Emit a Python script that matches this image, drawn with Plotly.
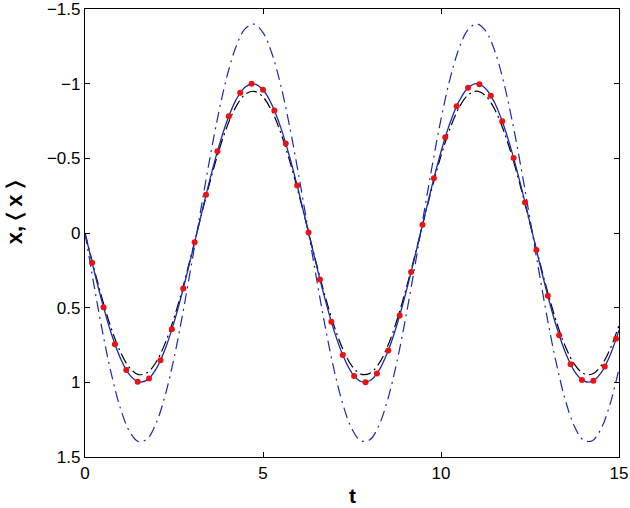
import plotly.graph_objects as go

# time grid for the curves
t_grid = [i * 0.25 for i in range(61)]

# solid blue curve <x>
x_mean = [0, 0.2474, 0.4794, 0.6816, 0.8415, 0.9490, 0.9975, 0.9840, 0.9093, 0.7781,
          0.5985, 0.3817, 0.1411, -0.1082, -0.3508, -0.5716, -0.7568, -0.8950, -0.9775, -0.9993,
          -0.9589, -0.8589, -0.7055, -0.5083, -0.2794, -0.0332, 0.2151, 0.4500, 0.6570, 0.8231,
          0.9380, 0.9946, 0.9894, 0.9229, 0.7985, 0.6247, 0.4121, 0.1743, -0.0752, -0.3195,
          -0.5440, -0.7347, -0.8797, -0.9700, -1.0000, -0.9678, -0.8755, -0.7287, -0.5366, -0.3111,
          -0.0663, 0.1826, 0.4202, 0.6316, 0.8038, 0.9260, 0.9906, 0.9936, 0.9349, 0.8180, 0.6503]

# blue dash-dot curve (larger amplitude)
x_wide = [0, 0.346, 0.671, 0.954, 1.178, 1.329, 1.397, 1.378, 1.273, 1.089,
          0.838, 0.534, 0.198, -0.151, -0.491, -0.800, -1.060, -1.253, -1.369, -1.399,
          -1.342, -1.202, -0.988, -0.712, -0.391, -0.046, 0.301, 0.630, 0.920, 1.152,
          1.313, 1.392, 1.385, 1.292, 1.118, 0.875, 0.577, 0.244, -0.105, -0.447,
          -0.762, -1.029, -1.232, -1.358, -1.400, -1.355, -1.226, -1.020, -0.751, -0.436,
          -0.093, 0.256, 0.588, 0.884, 1.125, 1.296, 1.387, 1.391, 1.309, 1.145, 0.910]

# black dash-dot curve (slightly smaller amplitude)
x_narrow = [0, 0.235, 0.455, 0.648, 0.799, 0.902, 0.948, 0.935, 0.864, 0.739,
            0.569, 0.363, 0.134, -0.103, -0.333, -0.543, -0.719, -0.850, -0.929, -0.949,
            -0.911, -0.816, -0.670, -0.483, -0.265, -0.032, 0.204, 0.428, 0.624, 0.782,
            0.891, 0.945, 0.940, 0.877, 0.759, 0.593, 0.391, 0.166, -0.071, -0.304,
            -0.517, -0.698, -0.836, -0.922, -0.950, -0.919, -0.832, -0.692, -0.510, -0.296,
            -0.063, 0.173, 0.399, 0.600, 0.764, 0.880, 0.941, 0.944, 0.888, 0.777, 0.618]

# red sample points
t_dots = [0.2, 0.52, 0.84, 1.16, 1.48, 1.80, 2.12, 2.44, 2.76, 3.08, 3.40, 3.72, 4.04, 4.36,
          4.68, 5.00, 5.32, 5.64, 5.96, 6.28, 6.60, 6.92, 7.24, 7.56, 7.88, 8.20, 8.52, 8.84,
          9.16, 9.48, 9.80, 10.12, 10.44, 10.76, 11.08, 11.40, 11.72, 12.04, 12.36, 12.68,
          13.00, 13.32, 13.64, 13.96, 14.28, 14.60, 14.92]
x_dots = [0.1987, 0.4969, 0.7446, 0.9168, 0.9959, 0.9738, 0.8529, 0.6454, 0.3724, 0.0616,
          -0.2555, -0.5467, -0.7823, -0.9386, -0.9995, -0.9589, -0.8210, -0.5998, -0.3176, -0.0032,
          0.3115, 0.5946, 0.8174, 0.9571, 0.9997, 0.9407, 0.7863, 0.5520, 0.2617, -0.0552,
          -0.3665, -0.6406, -0.8496, -0.9724, -0.9964, -0.9193, -0.7489, -0.5024, -0.2049, 0.1134,
          0.4202, 0.6843, 0.8789, 0.9843, 0.9898, 0.8948, 0.7089]

y_ticks = [-1.5, -1, -0.5, 0, 0.5, 1, 1.5]
y_tick_labels = ["\u22121.5", "\u22121", "\u22120.5", "0", "0.5", "1", "1.5"]
x_ticks = [0, 5, 10, 15]
x_tick_labels = ["0", "5", "10", "15"]

BLUE = "#1a2aa8"
FONT = "Liberation Sans, Arial, sans-serif"

fig = go.Figure()
fig.add_trace(go.Scatter(x=t_grid, y=x_narrow, mode="lines", line_shape="spline",
                         line=dict(color="black", width=1.2, dash="11px,4px,2px,4px")))
fig.add_trace(go.Scatter(x=t_grid, y=x_wide, mode="lines", line_shape="spline",
                         line=dict(color=BLUE, width=1.2, dash="11px,5px,2px,5px")))
fig.add_trace(go.Scatter(x=t_grid, y=x_mean, mode="lines", line_shape="spline",
                         line=dict(color=BLUE, width=1.3)))
fig.add_trace(go.Scatter(x=t_dots, y=x_dots, mode="markers",
                         marker=dict(color="#ee1111", size=6, line=dict(width=0))))

axis_common = dict(showgrid=False, zeroline=False, showline=True, linecolor="black",
                   linewidth=1.3, mirror="ticks", ticks="inside", ticklen=5,
                   tickcolor="black", tickwidth=1, ticklabeloverflow="allow",
                   automargin=False,
                   tickfont=dict(family=FONT, size=17, color="black"))

fig.update_layout(
    width=630, height=508,
    margin=dict(l=85, r=11, t=9, b=51, autoexpand=False),
    paper_bgcolor="white", plot_bgcolor="white",
    showlegend=False,
    xaxis=dict(range=[0, 15.0001], tickvals=x_ticks, ticktext=x_tick_labels, **axis_common),
    yaxis=dict(range=[1.5002, -1.5002], tickvals=y_ticks, ticktext=y_tick_labels, **axis_common),
    annotations=[
        dict(text="<b>t</b>", xref="paper", yref="paper", x=0.5, y=-0.087,
             xanchor="center", yanchor="middle", showarrow=False,
             font=dict(family=FONT, size=21, color="black")),
        dict(text="<b>x, \u2329 x \u232a</b>", xref="paper", yref="paper", x=-0.132, y=0.545,
             xanchor="center", yanchor="middle", showarrow=False, textangle=-90,
             font=dict(family=FONT, size=22, color="black")),
    ],
)

fig.write_html("out.html")
